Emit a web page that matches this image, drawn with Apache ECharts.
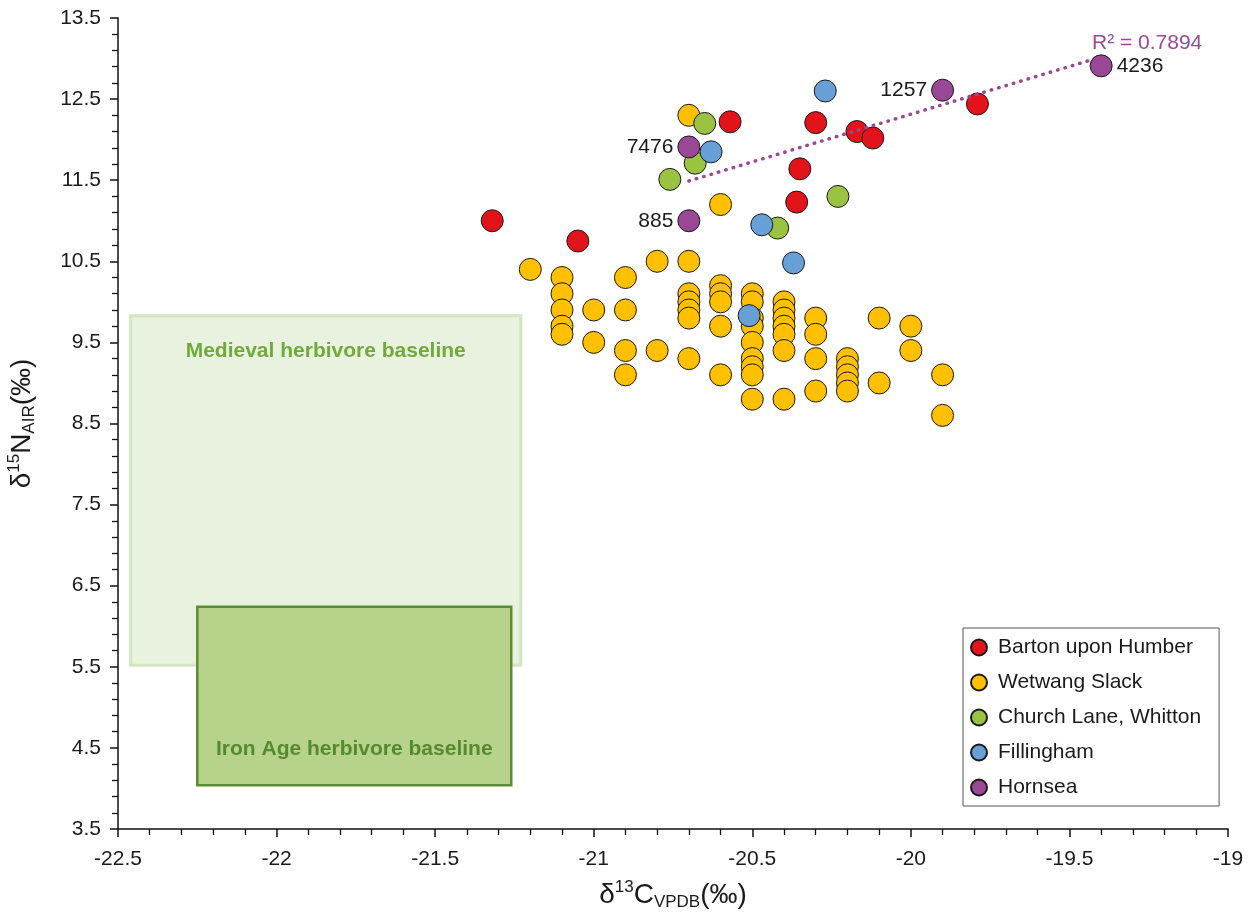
<!DOCTYPE html>
<html><head><meta charset="utf-8">
<script src="https://cdn.jsdelivr.net/npm/echarts@6/dist/echarts.min.js"></script>
<style>html,body{margin:0;padding:0;background:#fff}#c{width:1254px;height:919px}</style>
</head><body><div id="c"></div>
<script>
// ---- data ----
const seriesNames = ['Barton upon Humber', 'Wetwang Slack', 'Church Lane, Whitton', 'Fillingham', 'Hornsea'];
const barton = [[-21.32, 11.0], [-21.05, 10.75], [-20.57, 12.22], [-20.3, 12.21], [-20.17, 12.1],
  [-20.12, 12.02], [-20.35, 11.64], [-20.36, 11.23], [-19.79, 12.44]];
const wetwang = [[-20.7, 12.3], [-20.6, 11.2], [-21.2, 10.4], [-20.8, 10.5], [-20.7, 10.5],
  [-21.1, 10.3], [-21.1, 10.1], [-21.1, 9.9], [-21.1, 9.7], [-21.1, 9.6],
  [-21.0, 9.9], [-21.0, 9.5],
  [-20.9, 10.3], [-20.9, 9.9], [-20.9, 9.4], [-20.9, 9.1],
  [-20.8, 9.4],
  [-20.7, 10.1], [-20.7, 10.0], [-20.7, 9.9], [-20.7, 9.8], [-20.7, 9.3],
  [-20.6, 10.2], [-20.6, 10.1], [-20.6, 10.0], [-20.6, 9.7], [-20.6, 9.1],
  [-20.5, 10.1], [-20.5, 10.0], [-20.5, 9.8], [-20.5, 9.7], [-20.5, 9.5], [-20.5, 9.3], [-20.5, 9.2], [-20.5, 9.1], [-20.5, 8.8],
  [-20.4, 10.0], [-20.4, 9.9], [-20.4, 9.8], [-20.4, 9.7], [-20.4, 9.6], [-20.4, 9.4], [-20.4, 8.8],
  [-20.3, 9.8], [-20.3, 9.6], [-20.3, 9.3], [-20.3, 8.9],
  [-20.2, 9.3], [-20.2, 9.2], [-20.2, 9.1], [-20.2, 9.0], [-20.2, 8.9],
  [-20.1, 9.8], [-20.1, 9.0],
  [-20.0, 9.7], [-20.0, 9.4],
  [-19.9, 9.1], [-19.9, 8.6]];
const churchLane = [[-20.65, 12.2], [-20.68, 11.71], [-20.76, 11.51], [-20.23, 11.3], [-20.42, 10.91]];
const fillingham = [[-20.27, 12.6], [-20.63, 11.85], [-20.47, 10.95], [-20.37, 10.48], [-20.51, 9.83]];
const hornsea = [[-20.7, 11.91], [-20.7, 11.0], [-19.9, 12.61], [-19.4, 12.91]];
const hornseaIds = ['7476', '885', '1257', '4236'];
const trendLine = [[-20.7, 11.49], [-19.4, 13.02]];
const rSquaredText = 'R² = 0.7894';
const medievalBox = [[-22.46, 5.52], [-21.23, 9.83]];
const ironAgeBox = [[-22.25, 4.04], [-21.26, 6.24]];
const medievalLabel = 'Medieval herbivore baseline';
const ironAgeLabel = 'Iron Age herbivore baseline';
const xRange = [-22.5, -19], xStep = 0.5;
const yRange = [3.5, 13.5], yStep = 1;

// ---- styles ----
const FONT = '"Liberation Sans", Arial, sans-serif';
const colors = {
  'Barton upon Humber': '#E3131B',
  'Wetwang Slack': '#FFC000',
  'Church Lane, Whitton': '#9AC342',
  'Fillingham': '#689FD6',
  'Hornsea': '#9A4896'
};
const txt = '#1a1a1a';
const richName = {
  m: {fontSize: 28, lineHeight: 32, color: txt, fontFamily: FONT, verticalAlign: 'middle'},
  sup: {fontSize: 17, lineHeight: 17, color: txt, fontFamily: FONT, verticalAlign: 'top'},
  sub: {fontSize: 17, lineHeight: 17, color: txt, fontFamily: FONT, verticalAlign: 'bottom'}
};
function axisCommon() {
  return {
    type: 'value',
    axisLine: {show: true, onZero: false, lineStyle: {color: '#111', width: 1.5}},
    axisTick: {show: true, length: 8, lineStyle: {color: '#111', width: 1.5}},
    minorTick: {show: true, splitNumber: 5, length: 6, lineStyle: {color: '#111', width: 1.3}},
    splitLine: {show: false},
    minorSplitLine: {show: false},
    axisLabel: {fontSize: 21, color: txt, fontFamily: FONT}
  };
}
function scatterSeries(name, data, z) {
  return {
    name: name, type: 'scatter', data: data, symbol: 'circle', symbolSize: 22, z: z,
    itemStyle: {color: colors[name], borderColor: '#1a1a1a', borderWidth: 1, opacity: 1},
    emphasis: {disabled: true}
  };
}

const chart = echarts.init(document.getElementById('c'));
const xAxis = Object.assign(axisCommon(), {
  min: xRange[0], max: xRange[1], interval: xStep,
  name: '{m|δ}{sup|13}{m|C}{sub|VPDB}{m|(‰)}',
  nameLocation: 'middle', nameGap: 50,
  nameTextStyle: {rich: richName}
});
xAxis.axisLabel.margin = 20;
const yAxis = Object.assign(axisCommon(), {
  min: yRange[0], max: yRange[1], interval: yStep,
  name: '{m|δ}{sup|15}{m|N}{sub|AIR}{m|(‰)}',
  nameLocation: 'middle', nameGap: 80, nameRotate: 90,
  nameTextStyle: {rich: richName}
});
yAxis.axisLabel.margin = 17;

const hornseaData = hornsea.map((p, i) => ({
  value: p,
  label: {position: hornseaIds[i] === '4236' ? 'right' : 'left'}
}));

const option = {
  animation: false,
  backgroundColor: '#fff',
  grid: {left: 118, right: 26, top: 18, bottom: 90, containLabel: false, outerBoundsMode: 'none'},
  xAxis: xAxis,
  yAxis: yAxis,
  legend: {
    data: seriesNames,
    orient: 'vertical', left: 963, top: 628,
    padding: [9, 18, 8, 7],
    itemWidth: 28, itemHeight: 16, itemGap: 14,
    borderColor: '#555', borderWidth: 1, backgroundColor: '#fff',
    textStyle: {fontSize: 21, color: txt, fontFamily: FONT},
    selectedMode: false
  },
  series: [
    {
      name: 'baselines', type: 'scatter', data: [], z: 1, silent: true,
      markArea: {
        silent: true,
        data: [
          [{coord: medievalBox[0], name: medievalLabel,
            itemStyle: {color: '#E9F2DE', borderColor: '#D3E6C0', borderWidth: 3},
            label: {position: 'insideTop', distance: 27, color: '#6FAA3B'}},
           {coord: medievalBox[1]}],
          [{coord: ironAgeBox[0], name: ironAgeLabel,
            itemStyle: {color: '#B6D28B', borderColor: '#5A8C34', borderWidth: 2.5},
            label: {position: 'insideBottom', distance: 27, color: '#568A30'}},
           {coord: ironAgeBox[1]}]
        ],
        label: {show: true, fontSize: 21, fontWeight: 'bold', fontFamily: FONT}
      }
    },
    scatterSeries('Wetwang Slack', wetwang, 3),
    scatterSeries('Barton upon Humber', barton, 4),
    scatterSeries('Church Lane, Whitton', churchLane, 5),
    scatterSeries('Fillingham', fillingham, 6),
    {
      name: 'trend', type: 'line',
      data: trendLine.map((p, i) => i === trendLine.length - 1 ? {
        value: p,
        label: {show: true, position: 'top', offset: [46, 2], formatter: rSquaredText,
          fontSize: 21, color: '#9A4896', fontFamily: FONT}
      } : p),
      symbol: 'circle', symbolSize: 0, showSymbol: true, z: 7, silent: true,
      label: {show: false},
      itemStyle: {color: '#9A4896'},
      lineStyle: {color: '#9A4896', width: 3.5, type: [0.5, 7.2], cap: 'round'},
      emphasis: {disabled: true}
    },
    Object.assign(scatterSeries('Hornsea', hornseaData, 8), {
      label: {show: true, formatter: p => hornseaIds[p.dataIndex], fontSize: 21, color: txt,
        fontFamily: FONT, distance: 4}
    })
  ]
};
chart.setOption(option);
</script></body></html>
